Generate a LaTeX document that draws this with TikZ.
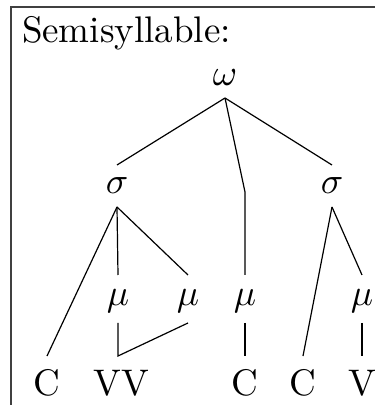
\documentclass[tikz,border=0pt]{standalone}
\begin{document}
\begin{tikzpicture}[x=1pt,y=-1pt,
  lbl/.style={inner sep=0pt,outer sep=0pt,anchor=base,scale=3.7,font=\normalsize},
  top/.style={lbl,text depth=3.51pt},
  sig/.style={lbl,text height=7.57pt,text depth=3.78pt},
  mu/.style={lbl,text height=8.11pt,text depth=4.86pt},
  leaf/.style={lbl,text height=10.54pt,text depth=0pt},
  edge/.style={line width=1.2pt,black},
  frame/.style={line width=1.5pt,black!75}]
\useasboundingbox (0,0) rectangle (375,405);
\draw[frame] (375,7) -- (11,7) -- (11,405);
\node[lbl,anchor=base west] (title) at (22,42) {Semisyllable:};
\node[top] (w) at (225,85) {$\omega$};
\node[sig] (s1) at (117,193) {$\sigma$};
\node[sig] (s2) at (332,193) {$\sigma$};
\node[mu] (m1) at (118,305) {$\mu$};
\node[mu] (m2) at (188,305) {$\mu$};
\node[mu] (m3) at (245,305) {$\mu$};
\node[mu] (m4) at (362,305) {$\mu$};
\node[leaf] (c1) at (47,395) {C};
\node[leaf] (vv) at (121,395) {VV};
\node[leaf] (c2) at (245,395) {C};
\node[leaf] (c3) at (303,395) {C};
\node[leaf] (v) at (362,395) {V};
\coordinate (bend) at (245,192);
\draw[edge] (w.south) -- (s1.north);
\draw[edge] (w.south) -- (bend) -- (m3.north);
\draw[edge] (w.south) -- (s2.north);
\draw[edge] (s1.south) -- (c1.north);
\draw[edge] (s1.south) -- (m1.north);
\draw[edge] (s1.south) -- (m2.north);
\draw[edge] (m1.south) -- ([xshift=-3pt]vv.north) -- (m2.south);
\draw[edge] (m3.south) -- (c2.north);
\draw[edge] (s2.south) -- (c3.north);
\draw[edge] (s2.south) -- (m4.north);
\draw[edge] (m4.south) -- (v.north);
\end{tikzpicture}
\end{document}
